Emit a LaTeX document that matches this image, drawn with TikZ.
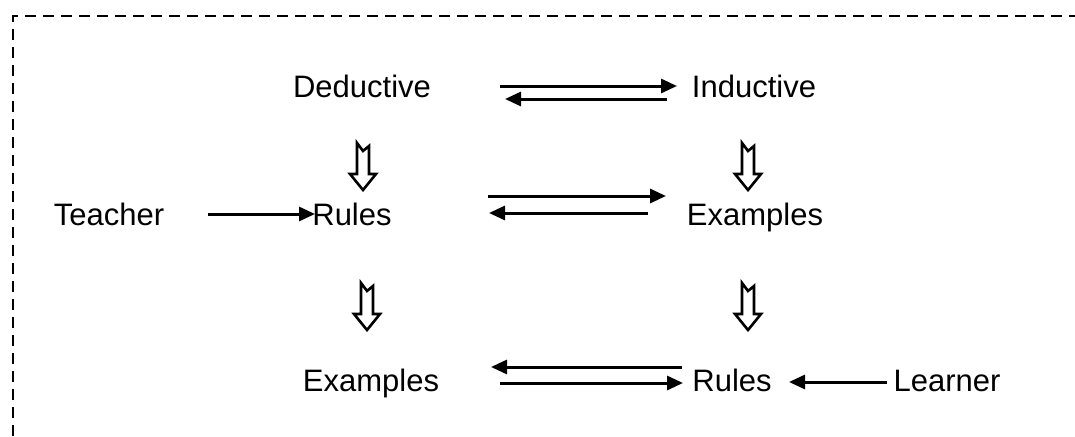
\documentclass[tikz,border=0pt]{standalone}
\usepackage{fontspec}
\setmainfont{Liberation Sans}
\usetikzlibrary{arrows.meta}
\newcommand\hdown[3]{%
  \draw[hollow] ({#1-6},#2) -- (#1,{#2+8}) -- ({#1+6},{#2+3}) -- ({#1+6},{#3-16})
    -- ({#1+13},{#3-16}) -- (#1,#3) -- ({#1-13},{#3-16}) -- ({#1-6},{#3-16}) -- cycle;}
\begin{document}
\begin{tikzpicture}[x=1pt,y=-1pt,
  lbl/.style={font=\fontsize{31}{37}\selectfont, anchor=base, inner sep=0pt},
  arr/.style={line width=3pt, -{Triangle[length=16pt,width=14pt]}},
  hollow/.style={line width=2.6pt, line join=miter}]
\useasboundingbox (0,0) rectangle (1075,436);
\draw[line width=2.4pt, dash pattern=on 11pt off 7pt] (13,436) -- (13,16) -- (1075,16);
% nodes
\node[lbl] (ded) at (362,97) {Deductive};
\node[lbl] (ind) at (754,97) {Inductive};
\node[lbl] (tea) at (109,225) {Teacher};
\node[lbl] (rul1) at (352,225) {Rules};
\node[lbl] (ex1) at (755,225) {Examples};
\node[lbl] (ex2) at (371,391) {Examples};
\node[lbl] (rul2) at (732,391) {Rules};
\node[lbl] (lea) at (947,391) {Learner};
% arrow endpoints
\coordinate (a1s) at (500,86);  \coordinate (a1e) at (677,86);
\coordinate (a2s) at (667,99);  \coordinate (a2e) at (505,99);
\coordinate (b1s) at (488,196); \coordinate (b1e) at (666,196);
\coordinate (b2s) at (648,213); \coordinate (b2e) at (489,213);
\coordinate (ts)  at (208,214); \coordinate (te)  at (315,214);
\coordinate (c1s) at (682,367); \coordinate (c1e) at (491,367);
\coordinate (c2s) at (500,383); \coordinate (c2e) at (683,383);
\coordinate (ls)  at (887,382); \coordinate (le)  at (789,382);
\draw[arr] (a1s) -- (a1e);
\draw[arr] (a2s) -- (a2e);
\draw[arr] (b1s) -- (b1e);
\draw[arr] (b2s) -- (b2e);
\draw[arr] (ts) -- (te);
\draw[arr] (c1s) -- (c1e);
\draw[arr] (c2s) -- (c2e);
\draw[arr] (ls) -- (le);
% hollow down arrows
\hdown{363}{143}{190}
\hdown{748}{143}{190}
\hdown{367}{283}{330}
\hdown{748}{283}{330}
\end{tikzpicture}
\end{document}
